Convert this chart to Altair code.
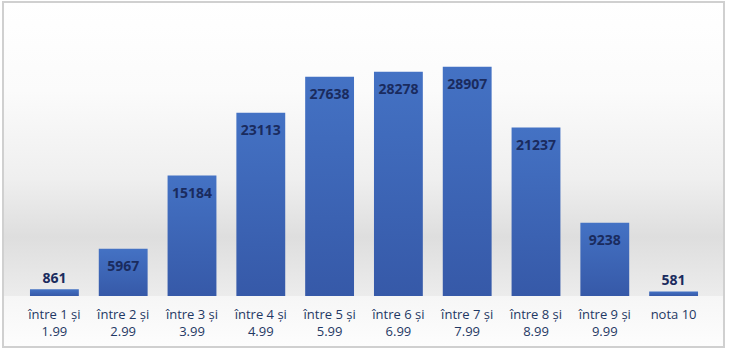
import altair as alt
import pandas as pd

categories = ["între 1 și\n1.99", "între 2 și\n2.99", "între 3 și\n3.99", "între 4 și\n4.99",
              "între 5 și\n5.99", "între 6 și\n6.99", "între 7 și\n7.99", "între 8 și\n8.99",
              "între 9 și\n9.99", "nota 10"]
values = [861, 5967, 15184, 23113, 27638, 28278, 28907, 21237, 9238, 581]

df = pd.DataFrame({"cat": categories, "val": values})

W, H = 688, 238
FONT = "Open Sans"
NAVY = "#1f3864"

x = alt.X("cat:N", sort=categories, title=None,
          scale=alt.Scale(paddingInner=0.29, paddingOuter=0.145),
          axis=alt.Axis(labelExpr="split(datum.label, '\\n')", labelAngle=0, domain=False,
                        ticks=False, labelFont=FONT, labelFontSize=13, labelColor=NAVY,
                        labelPadding=12, labelLineHeight=17, zindex=2))
y = alt.Y("val:Q", scale=alt.Scale(domain=[0, 30000], nice=False), axis=None)

bg_top = alt.Chart(df).mark_rect(
    fill=alt.Gradient(gradient="linear", x1=0, y1=0, x2=0, y2=1,
                      stops=[alt.GradientStop(offset=0, color="#ffffff"),
                             alt.GradientStop(offset=0.3, color="#fbfbfb"),
                             alt.GradientStop(offset=0.6, color="#efefef"),
                             alt.GradientStop(offset=0.8, color="#dedede"),
                             alt.GradientStop(offset=1, color="#ececec")])
).encode(x=alt.value(-17), x2=alt.value(704), y=alt.value(-56), y2=alt.value(238))

bg_bottom = alt.Chart(df).mark_rect(
    fill=alt.Gradient(gradient="linear", x1=0, y1=0, x2=0, y2=1,
                      stops=[alt.GradientStop(offset=0, color="#f6f6f6"),
                             alt.GradientStop(offset=1, color="#fdfdfd")])
).encode(x=alt.value(-17), x2=alt.value(704), y=alt.value(238), y2=alt.value(289))

frame = alt.Chart(df).mark_rect(
    fill="transparent", stroke="#d0d0d0", strokeWidth=1.5
).encode(x=alt.value(-17), x2=alt.value(704), y=alt.value(-56), y2=alt.value(289))

bars = alt.Chart(df).mark_bar(
    fill=alt.Gradient(gradient="linear", x1=0, y1=0, x2=0, y2=1,
                      stops=[alt.GradientStop(offset=0, color="#4472c4"),
                             alt.GradientStop(offset=1, color="#3659a8")])
).encode(x=x, y=y)

lab_in = alt.Chart(df).transform_filter("datum.val > 3000").mark_text(
    dy=18, font=FONT, fontWeight="bold", fontSize=14, color="#1a2b5e"
).encode(x=x, y=y, text=alt.Text("val:Q", format="d"))

lab_out = alt.Chart(df).transform_filter("datum.val <= 3000").mark_text(
    dy=-10, font=FONT, fontWeight="bold", fontSize=14, color="#1a2b5e"
).encode(x=x, y=y, text=alt.Text("val:Q", format="d"))

chart = alt.layer(bg_top, bg_bottom, frame, bars, lab_in, lab_out).properties(
    width=W, height=H,
    autosize=alt.AutoSizeParams(type="none"),
    padding={"left": 20, "top": 58, "right": 23, "bottom": 55},
    background="white"
).configure_view(stroke=None)

chart.save("out.html", embed_options={"renderer": "svg", "actions": False})
